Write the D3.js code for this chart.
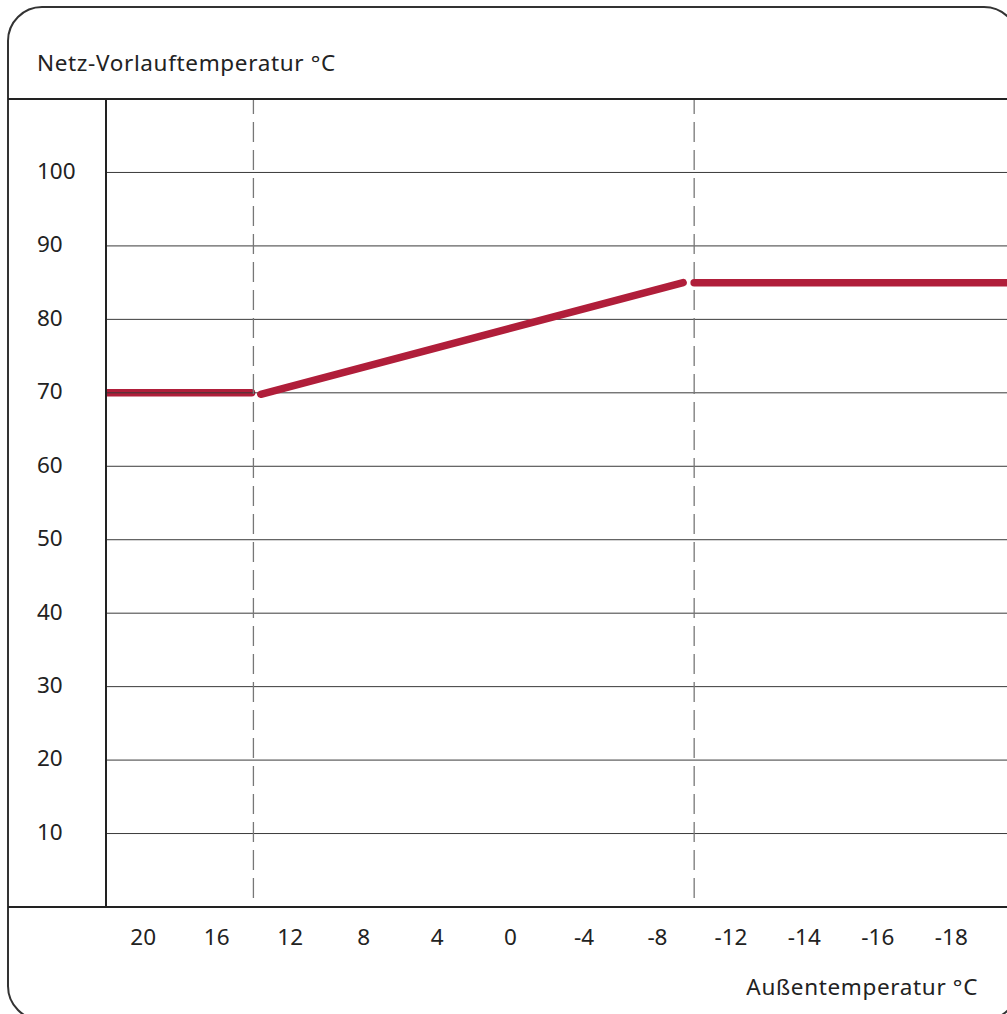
<!DOCTYPE html>
<html>
<head>
<meta charset="utf-8">
<script src="https://cdn.jsdelivr.net/npm/d3@7"></script>
<style>
  html, body { margin: 0; padding: 0; background: #fff; }
  svg { display: block; font-family: "Noto Sans", sans-serif; }
</style>
</head>
<body>
<svg id="chart" width="1007" height="1014"></svg>
<script>
// x categories (outdoor temperature, not evenly spaced in value)
const xLabels = ['20', '16', '12', '8', '4', '0', '-4', '-8', '-12', '-14', '-16', '-18'];
const xValues = [20, 16, 12, 8, 4, 0, -4, -8, -12, -14, -16, -18];
const yTicks = [10, 20, 30, 40, 50, 60, 70, 80, 90, 100];

// heating curve, drawn as three pieces
const flatLow = [{ t: 22, v: 70 }, { t: 14.1, v: 70 }];
const slope = [{ t: 13.6, v: 69.8 }, { t: -9.4, v: 85 }];
const flatHigh = [{ t: -10, v: 85 }, { t: -22, v: 85 }];
const breakpoints = [14, -10];

const svg = d3.select("#chart");
const W = +svg.attr("width");

const plotLeft = 106, plotTop = 99, plotBottom = 907;
const fontSize = 22.5;

// band positions for the categories
const xBand = d3.scaleBand()
    .domain(xLabels)
    .range([106.5, 988])
    .padding(0);

// piecewise mapping from temperature value to screen x via category centres
const xScale = d3.scaleLinear()
    .domain(xValues)
    .range(xLabels.map(l => xBand(l) + xBand.bandwidth() / 2));

const yScale = d3.scaleLinear()
    .domain([0, 110])
    .range([plotBottom, plotTop]);

// outer frame
svg.append("rect")
    .attr("x", 8).attr("y", 7)
    .attr("width", 1010).attr("height", 1013)
    .attr("rx", 34).attr("ry", 34)
    .attr("fill", "none")
    .attr("stroke", "#333")
    .attr("stroke-width", 2);

svg.append("text")
    .attr("x", 37).attr("y", 71)
    .attr("font-size", fontSize)
    .attr("letter-spacing", 0.65)
    .attr("fill", "#222")
    .text("Netz-Vorlauftemperatur °C");

const line = d3.line()
    .x(d => xScale(d.t))
    .y(d => yScale(d.v));

svg.append("clipPath").attr("id", "plot")
    .append("rect")
    .attr("x", plotLeft).attr("y", plotTop)
    .attr("width", W - plotLeft).attr("height", plotBottom - plotTop);

const curveStyle = p => p
    .attr("fill", "none")
    .attr("stroke", "#b01e3a")
    .attr("stroke-width", 7.5)
    .attr("stroke-linecap", "round")
    .attr("clip-path", "url(#plot)");

// low flat part sits under the grid
svg.append("path").datum(flatLow).attr("d", line).call(curveStyle);

// horizontal grid
svg.append("g")
    .selectAll("line")
    .data(yTicks)
    .enter().append("line")
    .attr("x1", plotLeft).attr("x2", W)
    .attr("y1", d => yScale(d)).attr("y2", d => yScale(d))
    .attr("stroke", "#3a3a3a")
    .attr("stroke-width", 1);

// dashed breakpoint lines
svg.append("g")
    .selectAll("line")
    .data(breakpoints)
    .enter().append("line")
    .attr("x1", d => xScale(d)).attr("x2", d => xScale(d))
    .attr("y1", plotTop).attr("y2", plotBottom)
    .attr("stroke", "#777")
    .attr("stroke-width", 1.3)
    .attr("stroke-dasharray", "20,8")
    .attr("stroke-dashoffset", 5);

svg.append("path").datum(slope).attr("d", line).call(curveStyle);
svg.append("path").datum(flatHigh).attr("d", line).call(curveStyle);

// frame lines
svg.append("line")
    .attr("x1", 8).attr("x2", W)
    .attr("y1", plotTop).attr("y2", plotTop)
    .attr("stroke", "#222").attr("stroke-width", 2);
svg.append("line")
    .attr("x1", 8).attr("x2", W)
    .attr("y1", plotBottom).attr("y2", plotBottom)
    .attr("stroke", "#222").attr("stroke-width", 2);
svg.append("line")
    .attr("x1", plotLeft).attr("x2", plotLeft)
    .attr("y1", plotTop).attr("y2", plotBottom)
    .attr("stroke", "#222").attr("stroke-width", 2);

// y labels
svg.append("g")
    .selectAll("text")
    .data(yTicks)
    .enter().append("text")
    .attr("x", 37)
    .attr("y", d => yScale(d) - 1.5)
    .attr("dy", "0.35em")
    .attr("font-size", fontSize)
    .attr("fill", "#222")
    .text(d => d);

// x labels
const xAxis = d3.axisBottom(xBand).tickSize(0).tickPadding(0);
const gx = svg.append("g")
    .attr("transform", `translate(0, ${plotBottom})`)
    .call(xAxis);
gx.select(".domain").remove();
gx.selectAll("text")
    .attr("y", 30)
    .attr("dy", "0.35em")
    .attr("font-size", fontSize)
    .attr("font-family", "Noto Sans, sans-serif")
    .attr("fill", "#222");

svg.append("text")
    .attr("x", 978).attr("y", 987)
    .attr("dy", "0.35em")
    .attr("text-anchor", "end")
    .attr("font-size", fontSize)
    .attr("letter-spacing", 0.65)
    .attr("fill", "#222")
    .text("Außentemperatur °C");
</script>
</body>
</html>
